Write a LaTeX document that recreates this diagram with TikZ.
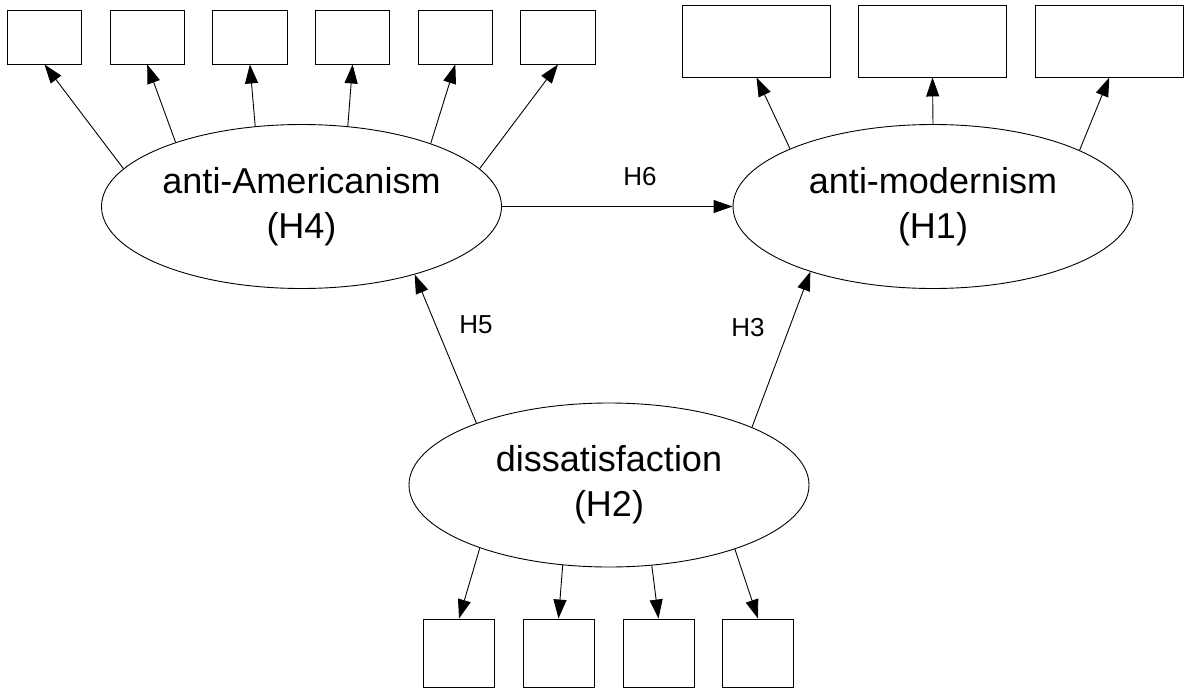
\documentclass[tikz,border=0pt]{standalone}
\usepackage{fontspec}
\setmainfont{Liberation Sans}
\usetikzlibrary{arrows.meta,shapes.geometric}
\begin{document}
\begin{tikzpicture}[x=1pt,y=-1pt,
  lat/.style={draw,ellipse,minimum width=400pt,minimum height=164pt,inner sep=0pt,
    align=center,font=\fontsize{36}{45}\selectfont,line width=0.9pt},
  ind/.style={draw,rectangle,inner sep=0pt,line width=0.9pt},
  indA/.style={ind,minimum width=74.4pt,minimum height=53.7pt},
  indB/.style={ind,minimum width=148.6pt,minimum height=71.3pt},
  indC/.style={ind,minimum width=71pt,minimum height=68pt},
  arr/.style={-{Triangle[length=19pt,width=13pt]},line width=0.9pt},
  hlab/.style={font=\fontsize{26}{30}\selectfont,inner sep=0pt}]
\useasboundingbox (0,0) rectangle (1184,688);

% latent variables
\node[lat] (A) at (301.5,206.5) {anti-Americanism\\(H4)};
\node[lat] (M) at (933,206.5) {anti-modernism\\(H1)};
\node[lat] (D) at (609,485) {dissatisfaction\\(H2)};

% indicators of anti-Americanism
\node[indA] (a1) at (44.5,37.15) {};
\node[indA] (a2) at (147.2,37.15) {};
\node[indA] (a3) at (249.9,37.15) {};
\node[indA] (a4) at (352.6,37.15) {};
\node[indA] (a5) at (455.3,37.15) {};
\node[indA] (a6) at (558.0,37.15) {};

% indicators of anti-modernism
\node[indB] (m1) at (756.5,41.35) {};
\node[indB] (m2) at (932.5,41.35) {};
\node[indB] (m3) at (1109.3,41.35) {};

% indicators of dissatisfaction
\node[indC] (d1) at (459,653) {};
\node[indC] (d2) at (558.5,653) {};
\node[indC] (d3) at (658.5,653) {};
\node[indC] (d4) at (758,653) {};

% measurement arrows
\draw[arr] (A.168) -- (a1.south);
\draw[arr] (A.153.9) -- (a2.south);
\draw[arr] (A.120.2) -- (a3.south);
\draw[arr] (A.60.3) -- (a4.south);
\draw[arr] (A.26.4) -- (a5.south);
\draw[arr] (A.12.3) -- (a6.south);

\draw[arr] (M.158.7) -- (m1.south);
\draw[arr] (M.90) -- (m2.south);
\draw[arr] (M.21.3) -- (m3.south);

\draw[arr] (D.206.5) -- (d1.north);
\draw[arr] (D.240) -- (d2.north);
\draw[arr] (D.298.8) -- (d3.north);
\draw[arr] (D.333.2) -- (d4.north);

% structural paths
\draw[arr] (A.east) -- (M.west);
\draw[arr] (D.155.9) -- (A.329.9);
\draw[arr] (D.22.4) -- (M.208.4);

% path labels
\node[hlab] (h6) at (640,177) {H6};
\node[hlab] (h5) at (476,325) {H5};
\node[hlab] (h3) at (748,328) {H3};
\end{tikzpicture}
\end{document}
